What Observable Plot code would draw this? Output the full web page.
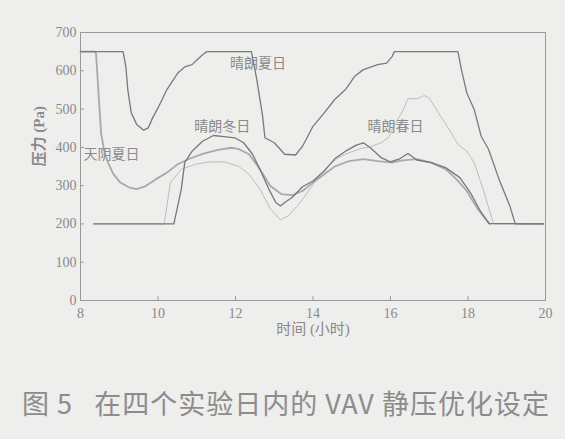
<!DOCTYPE html>
<html>
<head>
<meta charset="utf-8">
<script src="https://cdn.jsdelivr.net/npm/d3@7"></script>
<script src="https://cdn.jsdelivr.net/npm/@observablehq/plot@0.6"></script>
<style>
  html, body { margin: 0; padding: 0; background: #eeeeec; }
  body { width: 565px; height: 439px; position: relative; overflow: hidden; }
  #chart { position: absolute; left: 0; top: 0; }
  #caption { position: absolute; left: 22px; top: 388px; font-family: "Noto Sans CJK SC", sans-serif;
    font-size: 27px; line-height: 30px; color: #8c8c8c; white-space: nowrap; letter-spacing: 1px; }
</style>
</head>
<body>
<div id="chart"></div>
<div id="caption">图 5&nbsp;&nbsp;&nbsp;在四个实验日内的 VAV 静压优化设定</div>
<script>
// 晴朗夏日 (clear summer day): [hour, Pa]
const clearSummer = [
  [8.0,650],[9.1,650],[9.17,611],[9.22,551],[9.31,490],[9.45,460],[9.63,445],[9.75,451],[9.86,477],
  [10.0,503],[10.23,551],[10.51,594],[10.69,610],[10.88,616],[11.01,629],[11.15,642],[11.26,650],
  [12.41,650],[12.55,577],[12.7,481],[12.76,425],[13.0,412],[13.27,382],[13.55,380],[13.73,403],
  [14.0,455],[14.29,490],[14.56,525],[14.84,551],[15.07,585],[15.3,603],[15.67,616],[15.9,620],
  [16.04,637],[16.1,650],[17.74,650],[17.83,603],[17.97,542],[18.16,499],[18.34,429],[18.53,395],
  [18.8,317],[19.08,247],[19.22,200],[19.95,200]
];
// 天阴夏日 (overcast summer day)
const overcastSummer = [
  [8.0,650],[8.37,650],[8.4,646],[8.46,551],[8.53,438],[8.62,386],[8.71,360],[8.85,330],[9.03,308],
  [9.26,295],[9.45,291],[9.68,299],[9.95,317],[10.23,334],[10.51,356],[10.78,369],[11.15,383],
  [11.52,393],[11.89,399],[12.07,396],[12.35,382],[12.63,343],[12.9,299],[13.18,278],[13.46,275],
  [13.73,286],[14.0,308],[14.29,330],[14.56,350],[14.93,364],[15.3,369],[15.67,364],[16.04,360],
  [16.31,366],[16.68,369],[17.05,360],[17.42,343],[17.7,317],[17.97,286],[18.25,239],[18.53,204],
  [18.57,200]
];
// 晴朗冬日 (clear winter day)
const clearWinter = [
  [8.34,200],[10.41,200],[10.6,290],[10.69,360],[10.88,390],[11.15,416],[11.43,431],[11.7,428],
  [11.98,425],[12.21,412],[12.44,382],[12.63,343],[12.86,291],[13.04,256],[13.16,247],[13.27,256],
  [13.46,269],[13.73,297],[14.0,312],[14.29,338],[14.56,370],[14.84,390],[15.12,406],[15.3,412],
  [15.48,399],[15.76,373],[15.99,362],[16.22,369],[16.45,384],[16.68,367],[17.05,360],[17.42,347],
  [17.79,321],[18.06,282],[18.34,230],[18.54,201],[19.95,200]
];
// 晴朗春日 (clear spring day)
const clearSpring = [
  [8.34,200],[10.16,200],[10.32,308],[10.6,343],[10.97,356],[11.34,362],[11.7,362],[12.07,351],
  [12.35,330],[12.63,291],[12.9,239],[13.16,211],[13.36,221],[13.64,252],[13.92,291],[14.1,317],
  [14.38,351],[14.65,373],[14.93,386],[15.21,396],[15.48,402],[15.76,412],[15.94,425],[16.13,464],
  [16.31,494],[16.45,527],[16.68,527],[16.87,535],[17.0,529],[17.24,490],[17.51,447],[17.74,408],
  [17.97,390],[18.16,360],[18.39,291],[18.62,213],[18.67,200],[19.95,200]
];
const seriesLabels = [
  {name: "晴朗夏日", x: 12.58, y: 618},
  {name: "晴朗冬日", x: 11.66, y: 455},
  {name: "晴朗春日", x: 16.13, y: 455},
  {name: "天阴夏日", x: 8.8, y: 380}
];
const xTicks = [8, 10, 12, 14, 16, 18, 20];
const yTicks = [0, 100, 200, 300, 400, 500, 600, 700];
const xTitle = "时间 (小时)";
const yTitle = "压力 (Pa)";

const grayAxis = "#8a8a8a";
const serif = "'Liberation Serif', 'Noto Sans CJK SC', serif";

const chart = Plot.plot({
  width: 565,
  height: 345,
  marginLeft: 80,
  marginRight: 20,
  marginTop: 32,
  marginBottom: 45,
  style: {background: "transparent", fontFamily: serif, fontSize: "14px", color: grayAxis},
  x: {domain: [8, 20]},
  y: {domain: [0, 700]},
  marks: [
    Plot.frame({stroke: "#9a9a9a", strokeWidth: 1}),
    Plot.axisX(xTicks, {tickSize: 0, tickPadding: 8, fontSize: 14, fill: grayAxis, label: null}),
    Plot.axisY(yTicks, {tickSize: 0, tickPadding: 4, fontSize: 14, fill: grayAxis, label: null}),
    Plot.ruleX(xTicks.slice(1, -1), {y1: 0, y2: 10, stroke: "#9a9a9a"}),
    Plot.ruleY(yTicks.slice(1, -1), {x1: 8, x2: 8.1, stroke: "#9a9a9a"}),
    Plot.line(clearSpring, {x: d => d[0], y: d => d[1], stroke: "#bdbdbd", strokeWidth: 1}),
    Plot.line(overcastSummer, {x: d => d[0], y: d => d[1], stroke: "#a9a9a9", strokeWidth: 1.8}),
    Plot.line(clearWinter, {x: d => d[0], y: d => d[1], stroke: "#787878", strokeWidth: 1.3}),
    Plot.line(clearSummer, {x: d => d[0], y: d => d[1], stroke: "#7a7a7a", strokeWidth: 1.3}),
    Plot.text(seriesLabels, {x: "x", y: "y", text: "name", fontSize: 14, fill: "#8a8a8a",
      fontFamily: "'Noto Sans CJK SC', sans-serif"}),
    Plot.text([xTitle], {frameAnchor: "bottom", dy: 33, fontSize: 15, fill: grayAxis,
      fontFamily: serif}),
    Plot.text([yTitle], {frameAnchor: "left", dx: -41, rotate: -90, fontSize: 15, fill: grayAxis,
      fontFamily: serif, fontWeight: "bold"})
  ]
});
document.getElementById("chart").appendChild(chart);
</script>
</body>
</html>
